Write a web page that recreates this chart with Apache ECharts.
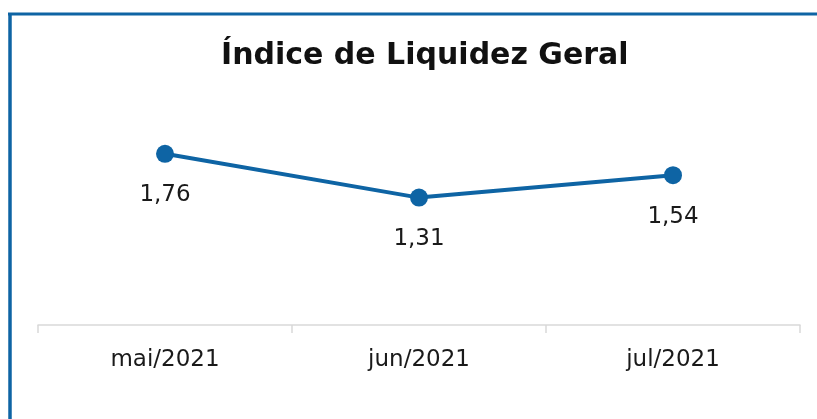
<!DOCTYPE html>
<html><head><meta charset="utf-8">
<script src="https://cdn.jsdelivr.net/npm/echarts@6/dist/echarts.min.js"></script>
<style>html,body{margin:0;padding:0;background:#fff}#c{width:817px;height:419px}</style>
</head><body><div id="c"></div>
<script>
const categories = ['mai/2021', 'jun/2021', 'jul/2021'];
const values = [1.76, 1.31, 1.54];
const titleText = 'Índice de Liquidez Geral';
const blue = '#0e64a4';
const font = 'DejaVu Sans';
const chart = echarts.init(document.getElementById('c'));
chart.setOption({
  animation: false,
  graphic: [
    {type: 'line', shape: {x1: 10, y1: 14, x2: 10, y2: 419}, style: {stroke: blue, lineWidth: 3.5}},
    {type: 'line', shape: {x1: 8, y1: 14, x2: 817, y2: 14}, style: {stroke: blue, lineWidth: 3}}
  ],
  title: {text: titleText, left: 216, top: 36,
    textStyle: {fontFamily: font, fontWeight: 'bold', fontSize: 30, color: '#111'}},
  grid: {left: 38, right: 17, top: 130.5, bottom: 94},
  xAxis: {type: 'category', data: categories, boundaryGap: true,
    axisLine: {lineStyle: {color: '#d9d9d9', width: 1.5}},
    axisTick: {show: true, length: 8, lineStyle: {color: '#d9d9d9', width: 1.5}},
    axisLabel: {fontFamily: font, fontSize: 23, color: '#1a1a1a', margin: 24}},
  yAxis: {type: 'value', min: 0, max: 2, show: false, splitLine: {show: false}},
  series: [{type: 'line', data: values, symbol: 'circle', symbolSize: 18,
    lineStyle: {color: blue, width: 4}, itemStyle: {color: blue},
    label: {show: true, position: 'bottom', distance: 21, fontFamily: font, fontSize: 23, color: '#1a1a1a',
      formatter: p => p.value.toFixed(2).replace('.', ',')}}]
});
</script></body></html>
